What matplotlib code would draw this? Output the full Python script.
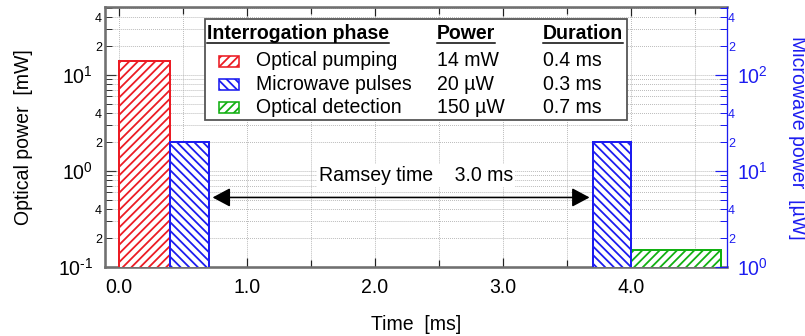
import matplotlib
matplotlib.use('Agg')
import matplotlib.pyplot as plt
from matplotlib.ticker import LogLocator, MultipleLocator, FuncFormatter, FormatStrFormatter
from matplotlib.patches import Rectangle
from matplotlib.lines import Line2D
import numpy as np

W, H = 805, 336
DPI = 78
PT = 72.0 / DPI  # points per pixel

plt.rcParams['font.family'] = ['Liberation Sans', 'DejaVu Sans']
plt.rcParams['mathtext.fontset'] = 'custom'
plt.rcParams['mathtext.rm'] = 'Liberation Sans'
plt.rcParams['mathtext.it'] = 'Liberation Sans:italic'
plt.rcParams['mathtext.bf'] = 'Liberation Sans:bold'
plt.rcParams['mathtext.default'] = 'regular'
plt.rcParams['hatch.linewidth'] = 1.8 * PT

# interrogation phases
phases = ['Optical pumping', 'Microwave pulses', 'Optical detection']
phase_power = ['14 mW', '20 µW', '150 µW']
phase_duration = ['0.4 ms', '0.3 ms', '0.7 ms']
phase_color = ['#ec1c24', '#1c1cf0', '#12b012']
phase_hatch = ['///', '\\\\\\', '///']

# optical pulses (left axis, mW)
opt_start = [0.0, 4.0]
opt_width = [0.4, 0.7]
opt_power = [14.0, 0.15]
opt_phase = [0, 2]

# microwave pulses (right axis, µW)
mw_start = [0.4, 3.7]
mw_width = [0.3, 0.3]
mw_power = [20.0, 20.0]

# Ramsey free evolution
ramsey_start = 0.7
ramsey_end = 3.7

x_ticks = [0.0, 1.0, 2.0, 3.0, 4.0]

FS = 19.5 * PT
FS_MINOR = 12.5 * PT
AX_GRAY = '#707070'
BLUE = '#1c1cf0'


def fig_xy(px, py):
    return px / W, 1 - py / H


fig = plt.figure(figsize=(W / DPI, H / DPI), dpi=DPI)
ax = fig.add_axes([105 / W, (H - 267) / H, 622 / W, 260 / H])
ax2 = ax.twinx()

ax.set_xlim(-0.109, 4.75)
ax.set_yscale('log')
ax.set_ylim(0.1, 51)
ax2.set_yscale('log')
ax2.set_ylim(1, 510)

# bars
for s, w, p, k in zip(opt_start, opt_width, opt_power, opt_phase):
    ax.bar(s, p - 1e-3, width=w, bottom=1e-3, align='edge', facecolor='white',
           edgecolor=phase_color[k], hatch=phase_hatch[k], linewidth=2.0 * PT, zorder=3)
for s, w, p in zip(mw_start, mw_width, mw_power):
    ax2.bar(s, p - 1e-2, width=w, bottom=1e-2, align='edge', facecolor='white',
            edgecolor=phase_color[1], hatch=phase_hatch[1], linewidth=2.0 * PT, zorder=3)

# x axis
ax.xaxis.set_major_locator(MultipleLocator(1.0))
ax.xaxis.set_minor_locator(MultipleLocator(0.5))
ax.set_xticks(x_ticks)
ax.xaxis.set_major_formatter(FormatStrFormatter('%.1f'))


def decade_fmt(v, _):
    e = int(round(np.log10(v)))
    return r'$10^{%s}$' % (str(e) if e >= 0 else r'\text{-}%d' % -e)


def minor_fmt(v, _):
    m = v / 10 ** np.floor(np.log10(v) + 1e-9)
    r = int(round(m))
    return str(r) if r in (2, 4) and abs(m - r) < 1e-6 else ''


for a in (ax, ax2):
    a.yaxis.set_major_locator(LogLocator(base=10, numticks=10))
    a.yaxis.set_minor_locator(LogLocator(base=10, subs=np.arange(2, 10), numticks=20))
    a.yaxis.set_major_formatter(FuncFormatter(decade_fmt))
    a.yaxis.set_minor_formatter(FuncFormatter(minor_fmt))

ax.tick_params(axis='x', which='both', direction='in', top=True, bottom=True,
               color='#222222', width=1.2 * PT, labelsize=FS, pad=11 * PT)
ax.tick_params(axis='x', which='major', length=9 * PT)
ax.tick_params(axis='x', which='minor', length=7 * PT)
ax.tick_params(axis='y', which='major', direction='in', left=True, right=False,
               length=11 * PT, width=1.2 * PT, color='#333333', labelsize=FS, pad=12 * PT)
ax.tick_params(axis='y', which='minor', direction='in', left=True, right=False,
               length=7 * PT, width=1.0 * PT, color='#333333', labelsize=FS_MINOR, pad=3 * PT)
ax2.tick_params(axis='y', which='major', direction='in', left=False, right=True,
                length=12 * PT, width=1.2 * PT, colors=BLUE, labelsize=FS, pad=10 * PT)
ax2.tick_params(axis='y', which='minor', direction='in', left=False, right=True,
                length=7 * PT, width=1.0 * PT, colors=BLUE, labelsize=FS_MINOR, pad=1 * PT)

# grid
ax.grid(True, which='both', axis='both', linestyle=(0, (1, 1.2)),
        color='#b0b0b0', linewidth=0.9 * PT, zorder=0)
ax.set_axisbelow(True)

# frame
for side in ('left', 'bottom', 'top'):
    ax.spines[side].set_color(AX_GRAY)
    ax.spines[side].set_linewidth(2.6 * PT)
ax.spines['right'].set_visible(False)
for side in ('left', 'bottom', 'top'):
    ax2.spines[side].set_visible(False)
ax2.spines['right'].set_color(BLUE)
ax2.spines['right'].set_linewidth(1.3 * PT)

# axis labels
fig.text(*fig_xy(24, 137), 'Optical power  [mW]', rotation=90, ha='center', va='center', fontsize=FS)
fig.text(*fig_xy(797, 138), 'Microwave power  [µW]', rotation=270, ha='center', va='center',
         fontsize=FS, color=BLUE)
fig.text(*fig_xy(416, 325), 'Time  [ms]', ha='center', va='center', fontsize=FS)

# Ramsey time arrow
y_arrow = 0.53
ax.annotate('', xy=(ramsey_end, y_arrow), xytext=(ramsey_start, y_arrow),
            arrowprops=dict(arrowstyle='<|-|>,head_length=%f,head_width=%f' % (15 * PT, 8 * PT),
                            mutation_scale=1, color='black', lw=1.6 * PT,
                            shrinkA=4 * PT, shrinkB=3 * PT), zorder=4)
ax.text(2.32, 0.79, 'Ramsey time    %.1f ms' % (ramsey_end - ramsey_start),
        ha='center', va='baseline', fontsize=FS, zorder=4,
        bbox=dict(facecolor='white', edgecolor='none', pad=2))

# phase table
box_l, box_t, box_r, box_b = 205, 19, 627, 120
fig.add_artist(Rectangle(fig_xy(box_l, box_b), (box_r - box_l) / W, (box_b - box_t) / H,
                         transform=fig.transFigure, facecolor='white', edgecolor='#555555',
                         linewidth=1.8 * PT, zorder=5))
col_x = [207, 437, 543]
headers = ['Interrogation phase', 'Power', 'Duration']
head_texts = []
for cx, h in zip(col_x, headers):
    head_texts.append(fig.text(*fig_xy(cx, 39), h, ha='left', va='baseline',
                               fontsize=FS, fontweight='bold', zorder=6))
row_base = [66.5, 89.7, 113]
for i, yb in enumerate(row_base):
    fig.add_artist(Rectangle(fig_xy(219, yb), 20 / W, 11 / H, transform=fig.transFigure,
                             facecolor='white', edgecolor=phase_color[i], hatch=phase_hatch[i],
                             linewidth=1.6 * PT, zorder=6))
    fig.text(*fig_xy(256, yb), phases[i], ha='left', va='baseline', fontsize=FS, zorder=6)
    fig.text(*fig_xy(col_x[1], yb), phase_power[i], ha='left', va='baseline', fontsize=FS, zorder=6)
    fig.text(*fig_xy(col_x[2], yb), phase_duration[i], ha='left', va='baseline', fontsize=FS, zorder=6)

# underline the table headers
renderer = fig.canvas.get_renderer()
for t in head_texts:
    bb = t.get_window_extent(renderer)
    yline = 1 - 42.5 / H
    fig.add_artist(Line2D([bb.x0 / fig.bbox.width, bb.x1 / fig.bbox.width], [yline, yline],
                          transform=fig.transFigure, color='black', linewidth=1.5 * PT, zorder=6))

fig.savefig('out.png', dpi=DPI)
